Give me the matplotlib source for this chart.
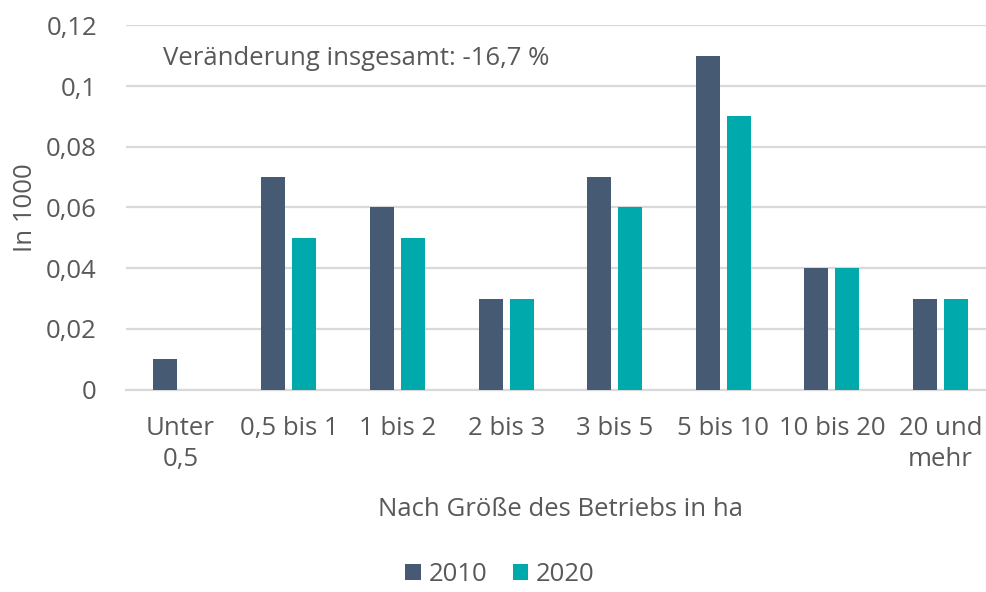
import matplotlib.pyplot as plt
import numpy as np

plt.rcParams['font.family'] = ['Open Sans', 'DejaVu Sans']

categories = ["Unter\n0,5", "0,5 bis 1", "1 bis 2", "2 bis 3", "3 bis 5",
              "5 bis 10", "10 bis 20", "20 und\nmehr"]
values_2010 = [0.01, 0.07, 0.06, 0.03, 0.07, 0.11, 0.04, 0.03]
values_2020 = [0.0, 0.05, 0.05, 0.03, 0.06, 0.09, 0.04, 0.03]
yticks = [0, 0.02, 0.04, 0.06, 0.08, 0.1, 0.12]
ytick_labels = ["0", "0,02", "0,04", "0,06", "0,08", "0,1", "0,12"]

c2010 = "#465A74"
c2020 = "#00A9AC"
txt = "#595959"
grid = "#D9D9D9"
fs = 18.5

fig = plt.figure(figsize=(9.86, 5.92), dpi=100)
ax = fig.add_axes([0.1279, 0.342, 0.881, 0.615])

x = np.arange(len(categories))
w = 0.221
off = 0.1427
ax.bar(x - off, values_2010, w, color=c2010, label="2010", zorder=3)
ax.bar(x + off, values_2020, w, color=c2020, label="2020", zorder=3)

ax.set_xlim(-0.5, len(categories) - 0.5)
ax.set_ylim(0, 0.12)
ax.set_yticks(yticks)
ax.set_yticklabels(ytick_labels)
ax.set_xticks(x)
ax.set_xticklabels(categories, linespacing=1.3)
ax.tick_params(axis="both", length=0, labelsize=fs, colors=txt)
ax.tick_params(axis="y", pad=21)
ax.tick_params(axis="x", pad=19)
ax.yaxis.grid(True, color=grid, linewidth=1.6, zorder=0)
for s in ["top", "right", "left"]:
    ax.spines[s].set_visible(False)
ax.spines["bottom"].set_color(grid)
ax.spines["bottom"].set_linewidth(1.6)

ax.set_ylabel("In 1000", fontsize=fs, color=txt, labelpad=6)
ax.set_xlabel("Nach Größe des Betriebs in ha", fontsize=fs, color=txt, labelpad=18)

fig.text(0.165, 0.902, "Veränderung insgesamt: -16,7 %", fontsize=fs, color=txt,
         va="center", ha="left")

fig.legend(loc="center", bbox_to_anchor=(0.507, 0.03), ncol=2, frameon=False,
           fontsize=fs, labelcolor=txt, handlelength=0.6, handleheight=0.6,
           handletextpad=0.3, columnspacing=1.0, borderaxespad=0, borderpad=0)

fig.savefig("out.png", dpi=100)
